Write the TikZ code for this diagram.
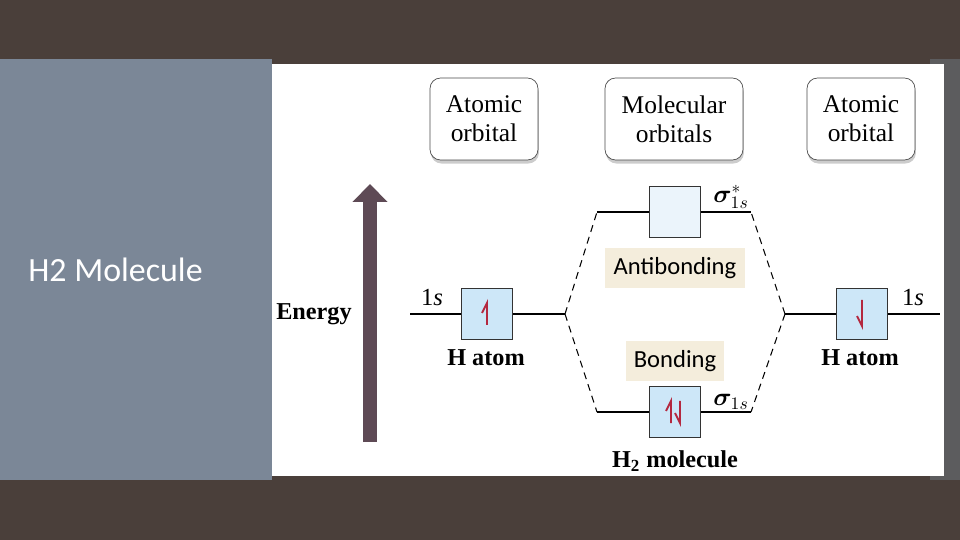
\documentclass[tikz,border=0pt]{standalone}
\usepackage{bm}
\usepackage{fontspec}
\setmainfont{Liberation Serif}
\newfontfamily\labelfont{Carlito}
\usetikzlibrary{arrows.meta,shadows}

\definecolor{slidebg}{HTML}{4A3F3A}
\definecolor{sidepanel}{HTML}{7B8797}
\definecolor{sidestrip}{HTML}{5C5C5E}
\definecolor{orbfill}{HTML}{CDE7F8}
\definecolor{orbpale}{HTML}{EBF4FB}
\definecolor{tagfill}{HTML}{F4EDDC}
\definecolor{energycol}{HTML}{5E4A55}
\definecolor{spincol}{HTML}{B4283F}

\tikzset{
  headbox/.style={rectangle, draw=black!70, rounded corners=6pt, fill=white, align=center,
    minimum height=1.64cm, font=\fontsize{14.5}{16.5}\selectfont,
    drop shadow={shadow xshift=0.5pt, shadow yshift=-2pt, opacity=0.4}},
  orbbox/.style={rectangle, draw=black!80, line width=0.7pt, fill=orbfill, minimum size=1.02cm, inner sep=0pt},
  tagbox/.style={rectangle, fill=tagfill, minimum height=0.82cm, font=\labelfont\fontsize{14}{16}\selectfont},
  boldlabel/.style={font=\bfseries\fontsize{13.8}{16}\selectfont},
  lvl/.style={line width=0.7pt},
  corr/.style={line width=0.6pt, dash pattern=on 4pt off 3pt},
  spin/.style={line width=1.1pt, spincol, line join=miter},
}

\begin{document}
\begin{tikzpicture}[x=0.02cm, y=-0.02cm]
    \useasboundingbox (0,0) rectangle (960,540);
    \fill[slidebg] (0,0) rectangle (960,540);
    \fill[sidepanel] (0,59) rectangle (272,480);
    \fill[sidestrip] (930,59) rectangle (960,480);
    \fill[white] (272,64) rectangle (944,476);

    \node[anchor=west, text=white, font=\labelfont\fontsize{19.3}{23}\selectfont, inner sep=0pt] (title) at (28,270) {H2 Molecule};

    \node[headbox, minimum width=2.16cm] (AO_left) at (484,119) {Atomic\\orbital};
    \node[headbox, minimum width=2.76cm] (MO_mid) at (674,119) {Molecular\\orbitals};
    \node[headbox, minimum width=2.16cm] (AO_right) at (861,119) {Atomic\\orbital};

    \coordinate (E_bot) at (370,442);
    \coordinate (E_top) at (370,184);
    \draw[energycol, line width=0.28cm, -{Triangle[width=0.68cm, length=0.36cm]}] (E_bot) -- (E_top);
    \node[boldlabel] (energy) at (314,314) {Energy};

    \node[orbbox] (H_left) at (487,314) {};
    \node[orbbox] (H_right) at (862,314) {};
    \node[orbbox, fill=orbpale] (sig_star) at (675,212) {};
    \node[orbbox] (sig) at (675,412) {};

    \coordinate (L_end) at (410,314);
    \coordinate (L_mid) at (565,314);
    \coordinate (R_mid) at (785,314);
    \coordinate (R_end) at (940,314);
    \coordinate (AB_l) at (597,212);
    \coordinate (AB_r) at (751,212);
    \coordinate (B_l) at (597,412);
    \coordinate (B_r) at (751,412);

    \draw[lvl] (L_end) -- (H_left.west);
    \draw[lvl] (H_left.east) -- (L_mid);
    \draw[lvl] (R_mid) -- (H_right.west);
    \draw[lvl] (H_right.east) -- (R_end);
    \draw[lvl] (AB_l) -- (sig_star.west);
    \draw[lvl] (sig_star.east) -- (AB_r);
    \draw[lvl] (B_l) -- (sig.west);
    \draw[lvl] (sig.east) -- (B_r);

    \draw[corr] (L_mid) -- (AB_l);
    \draw[corr] (L_mid) -- (B_l);
    \draw[corr] (R_mid) -- (AB_r);
    \draw[corr] (R_mid) -- (B_r);

    \draw[spin] (487,325) -- (487,303) -- (482,313);
    \draw[spin] (862,300) -- (862,326) -- (857,316);
    \draw[spin] (671,423) -- (671,401) -- (666,411);
    \draw[spin] (680,401) -- (680,423) -- (675,413);

    \node[font=\fontsize{14}{16}\selectfont] (s_left) at (432,298) {1\textit{s}};
    \node[font=\fontsize{14}{16}\selectfont] (s_right) at (913,298) {1\textit{s}};
    \node[font=\fontsize{14}{16}\selectfont] (lab_star) at (731,197) {$\bm{\sigma}^{*}_{1s}$};
    \node[font=\fontsize{14}{16}\selectfont] (lab_sig) at (731,402) {$\bm{\sigma}_{1s}$};

    \node[boldlabel] (atom_left) at (486,358) {H atom};
    \node[boldlabel] (atom_right) at (860,358) {H atom};
    \node[boldlabel] (molecule) at (675,461) {H$_{\mathbf{2}}$ molecule};

    \node[tagbox, minimum width=2.8cm] (anti) at (675,268) {Antibonding};
    \node[tagbox, minimum width=1.98cm] (bond) at (675,361) {Bonding};
\end{tikzpicture}
\end{document}
